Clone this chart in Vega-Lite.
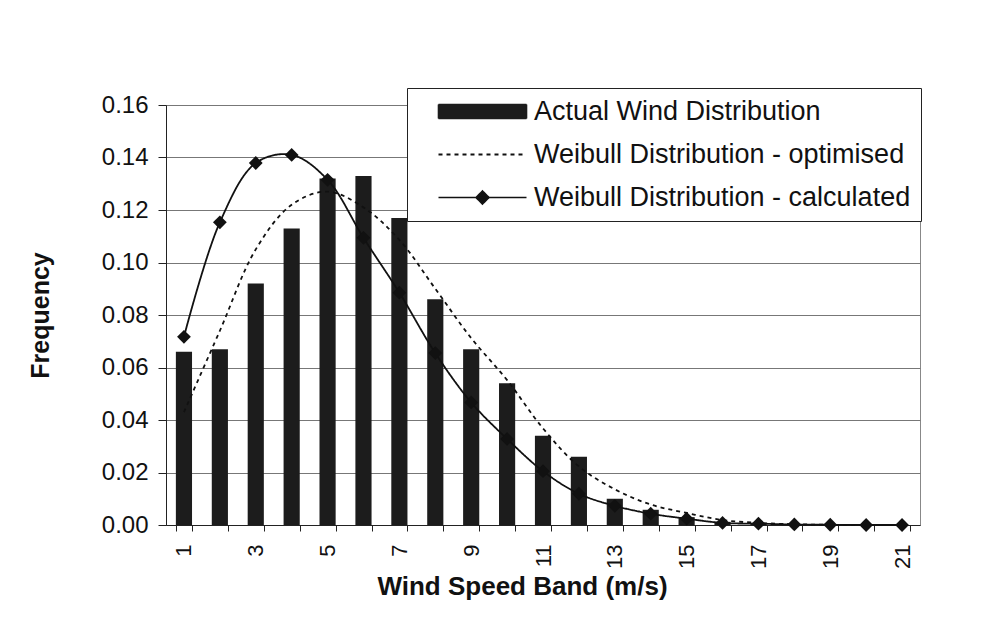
{
  "$schema": "https://vega.github.io/schema/vega-lite/v6.json",
  "autosize": {"type": "none"},
  "padding": {"left": 166, "top": 105, "right": 72, "bottom": 100},
  "width": 754,
  "height": 420,
  "background": "white",
  "config": {
    "font": "Liberation Sans",
    "view": {"stroke": "#888", "strokeWidth": 1},
    "axis": {"labelFont": "Liberation Sans", "titleFont": "Liberation Sans", "labelColor": "#111", "titleColor": "#111", "domainColor": "#222", "tickColor": "#222"}
  },
  "data": {
    "values": [
      {"band": 1, "series": "Actual Wind Distribution", "value": 0.066},
      {"band": 2, "series": "Actual Wind Distribution", "value": 0.067},
      {"band": 3, "series": "Actual Wind Distribution", "value": 0.092},
      {"band": 4, "series": "Actual Wind Distribution", "value": 0.113},
      {"band": 5, "series": "Actual Wind Distribution", "value": 0.132},
      {"band": 6, "series": "Actual Wind Distribution", "value": 0.133},
      {"band": 7, "series": "Actual Wind Distribution", "value": 0.117},
      {"band": 8, "series": "Actual Wind Distribution", "value": 0.086},
      {"band": 9, "series": "Actual Wind Distribution", "value": 0.067},
      {"band": 10, "series": "Actual Wind Distribution", "value": 0.054},
      {"band": 11, "series": "Actual Wind Distribution", "value": 0.034},
      {"band": 12, "series": "Actual Wind Distribution", "value": 0.026},
      {"band": 13, "series": "Actual Wind Distribution", "value": 0.010},
      {"band": 14, "series": "Actual Wind Distribution", "value": 0.0058},
      {"band": 15, "series": "Actual Wind Distribution", "value": 0.003},
      {"band": 16, "series": "Actual Wind Distribution", "value": 0.0012},
      {"band": 17, "series": "Actual Wind Distribution", "value": 0.0008},
      {"band": 18, "series": "Actual Wind Distribution", "value": 0.0003},
      {"band": 19, "series": "Actual Wind Distribution", "value": 0.0001},
      {"band": 20, "series": "Actual Wind Distribution", "value": 0},
      {"band": 21, "series": "Actual Wind Distribution", "value": 0},
      {"band": 1, "series": "Weibull Distribution - optimised", "value": 0.043},
      {"band": 2, "series": "Weibull Distribution - optimised", "value": 0.074},
      {"band": 3, "series": "Weibull Distribution - optimised", "value": 0.105},
      {"band": 4, "series": "Weibull Distribution - optimised", "value": 0.122},
      {"band": 5, "series": "Weibull Distribution - optimised", "value": 0.127},
      {"band": 6, "series": "Weibull Distribution - optimised", "value": 0.121},
      {"band": 7, "series": "Weibull Distribution - optimised", "value": 0.1086},
      {"band": 8, "series": "Weibull Distribution - optimised", "value": 0.090},
      {"band": 9, "series": "Weibull Distribution - optimised", "value": 0.0712},
      {"band": 10, "series": "Weibull Distribution - optimised", "value": 0.0552},
      {"band": 11, "series": "Weibull Distribution - optimised", "value": 0.0368},
      {"band": 12, "series": "Weibull Distribution - optimised", "value": 0.0223},
      {"band": 13, "series": "Weibull Distribution - optimised", "value": 0.0136},
      {"band": 14, "series": "Weibull Distribution - optimised", "value": 0.0078},
      {"band": 15, "series": "Weibull Distribution - optimised", "value": 0.0046},
      {"band": 16, "series": "Weibull Distribution - optimised", "value": 0.0019},
      {"band": 17, "series": "Weibull Distribution - optimised", "value": 0.0008},
      {"band": 18, "series": "Weibull Distribution - optimised", "value": 0.0003},
      {"band": 19, "series": "Weibull Distribution - optimised", "value": 0.0001},
      {"band": 20, "series": "Weibull Distribution - optimised", "value": 0},
      {"band": 21, "series": "Weibull Distribution - optimised", "value": 0},
      {"band": 1, "series": "Weibull Distribution - calculated", "value": 0.0717},
      {"band": 2, "series": "Weibull Distribution - calculated", "value": 0.1153},
      {"band": 3, "series": "Weibull Distribution - calculated", "value": 0.1379},
      {"band": 4, "series": "Weibull Distribution - calculated", "value": 0.141},
      {"band": 5, "series": "Weibull Distribution - calculated", "value": 0.1315},
      {"band": 6, "series": "Weibull Distribution - calculated", "value": 0.1094},
      {"band": 7, "series": "Weibull Distribution - calculated", "value": 0.0885},
      {"band": 8, "series": "Weibull Distribution - calculated", "value": 0.0655},
      {"band": 9, "series": "Weibull Distribution - calculated", "value": 0.0467},
      {"band": 10, "series": "Weibull Distribution - calculated", "value": 0.0328},
      {"band": 11, "series": "Weibull Distribution - calculated", "value": 0.0205},
      {"band": 12, "series": "Weibull Distribution - calculated", "value": 0.0119},
      {"band": 13, "series": "Weibull Distribution - calculated", "value": 0.0073},
      {"band": 14, "series": "Weibull Distribution - calculated", "value": 0.0043},
      {"band": 15, "series": "Weibull Distribution - calculated", "value": 0.0024},
      {"band": 16, "series": "Weibull Distribution - calculated", "value": 0.0008},
      {"band": 17, "series": "Weibull Distribution - calculated", "value": 0.0005},
      {"band": 18, "series": "Weibull Distribution - calculated", "value": 0.0002},
      {"band": 19, "series": "Weibull Distribution - calculated", "value": 0.0001},
      {"band": 20, "series": "Weibull Distribution - calculated", "value": 0},
      {"band": 21, "series": "Weibull Distribution - calculated", "value": 0}
    ]
  },
  "encoding": {
    "x": {
      "field": "band",
      "type": "ordinal",
      "scale": {"paddingInner": 0.55, "paddingOuter": 0.275},
      "axis": {
        "title": "Wind Speed Band (m/s)",
        "titleFontSize": 26,
        "titleFontWeight": "bold",
        "titlePadding": 5,
        "titleX": 356,
        "labelAngle": -90,
        "labelFontSize": 22,
        "labelPadding": 13,
        "labelExpr": "datum.value % 2 == 1 ? datum.label : ''",
        "tickBand": "extent",
        "tickSize": 6,
        "grid": false
      }
    },
    "y": {
      "field": "value",
      "type": "quantitative",
      "scale": {"domain": [0, 0.16], "nice": false},
      "axis": {
        "title": "Frequency",
        "titleFontSize": 25,
        "titleFontWeight": "bold",
        "titleBaseline": "middle",
        "titleX": -126,
        "values": [0, 0.02, 0.04, 0.06, 0.08, 0.10, 0.12, 0.14, 0.16],
        "format": ".2f",
        "labelFontSize": 24,
        "labelPadding": 10,
        "tickSize": 8,
        "grid": true,
        "gridColor": "#777",
        "gridWidth": 1.2
      }
    }
  },
  "layer": [
    {
      "transform": [{"filter": "datum.series === 'Actual Wind Distribution'"}],
      "mark": {"type": "bar"},
      "encoding": {
        "color": {
          "field": "series",
          "type": "nominal",
          "scale": {
            "domain": ["Actual Wind Distribution", "Weibull Distribution - optimised", "Weibull Distribution - calculated"],
            "range": ["#1c1c1c", "#111111", "#111111"]
          },
          "legend": {
            "title": null,
            "orient": "none",
            "legendX": 241,
            "legendY": -17,
            "fillColor": "white",
            "strokeColor": "#222",
            "padding": 10,
            "labelFontSize": 27,
            "labelColor": "#111",
            "labelFont": "Liberation Sans",
            "labelLimit": 700,
            "rowPadding": 15,
            "symbolOffset": 52,
            "labelOffset": 38,
            "encode": {
              "symbols": {
                "update": {
                  "shape": {"signal": "datum.value === 'Actual Wind Distribution' ? 'M-4.4,-0.7H4.4V0.7H-4.4Z' : (datum.value === 'Weibull Distribution - optimised' ? 'M-4.4,0H4.4' : 'M-4.4,0H4.4M0,-0.65L0.65,0L0,0.65L-0.65,0Z')"},
                  "size": {"value": 400},
                  "fill": {"signal": "datum.value === 'Weibull Distribution - optimised' ? 'transparent' : '#151515'"},
                  "stroke": {"value": "#111"},
                  "strokeWidth": {"signal": "datum.value === 'Weibull Distribution - optimised' ? 2 : 1.6"},
                  "strokeDash": {"signal": "datum.value === 'Weibull Distribution - optimised' ? [4, 4] : [1, 0]"},
                  "opacity": {"value": 1}
                }
              }
            }
          }
        }
      }
    },
    {
      "transform": [{"filter": "datum.series !== 'Actual Wind Distribution'"}],
      "mark": {"type": "line", "interpolate": "catmull-rom", "strokeWidth": 1.8},
      "encoding": {
        "detail": {"field": "series"},
        "color": {"field": "series", "type": "nominal"},
        "strokeDash": {
          "field": "series",
          "type": "nominal",
          "scale": {
            "domain": ["Actual Wind Distribution", "Weibull Distribution - optimised", "Weibull Distribution - calculated"],
            "range": [[1, 0], [4, 4], [1, 0]]
          },
          "legend": null
        }
      }
    },
    {
      "transform": [{"filter": "datum.series === 'Weibull Distribution - calculated'"}],
      "mark": {"type": "point", "shape": "diamond", "filled": true, "size": 190, "color": "#111", "opacity": 1}
    }
  ]
}
